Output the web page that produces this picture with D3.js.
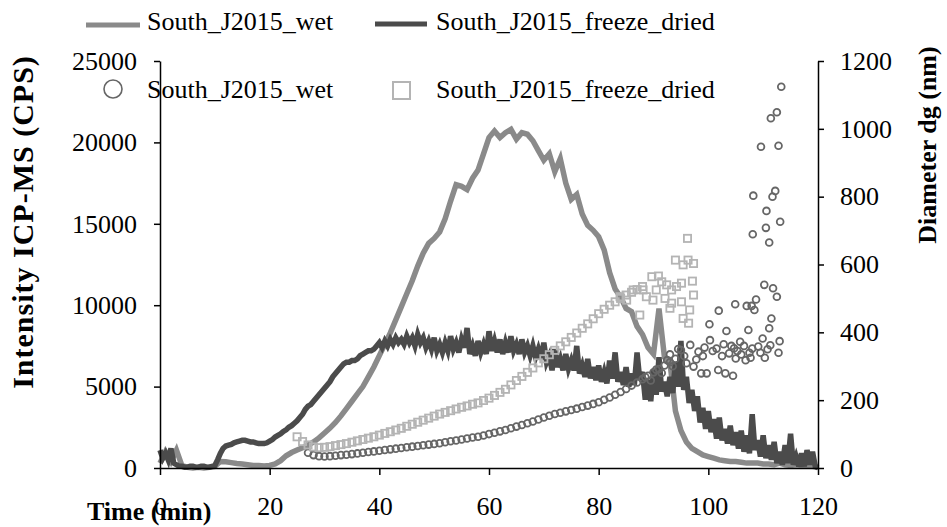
<!DOCTYPE html>
<html>
<head>
<meta charset="utf-8">
<script src="https://cdn.jsdelivr.net/npm/d3@7"></script>
<style>
  body { margin: 0; background: #fff; }
  svg text { font-family: "Liberation Serif", "Times New Roman", serif; fill: #000; }
</style>
</head>
<body>
<svg id="chart" width="947" height="527"></svg>
<script>
// time (min) for the wet ICP-MS trace
const minutes = [0,1,2,3,4,5,6,7,8,9,10,11,12,13,14,15,16,17,18,19,20,21,22,23,24,25,26,27,28,29,
  30,31,32,33,34,35,36,37,38,39,40,41,42,43,44,45,46,47,48,49,50,51,52,53,54,55,56,57,58,59,
  60,61,62,63,64,65,66,67,68,69,70,71,72,73,74,75,76,77,78,79,80,81,82,83,84,85,86,87,88,89,
  90,91,92,93,94,95,96,97,98,99,100,101,102,103,104,105,106,107,108,109,110,111,112,113,114,115,116,117,118,119,120];

const wetIntensity = [300,1000,400,1100,150,50,0,50,0,50,100,400,380,330,280,240,200,160,150,120,
  160,250,450,750,950,1100,1250,1400,1600,1850,2150,2450,2800,3200,3650,4100,4550,5000,5600,6200,
  6900,7600,8300,9100,9900,10700,11500,12400,13200,13800,14100,14500,15300,16400,17400,17300,17100,17800,18300,19300,
  20300,20700,20300,20600,20800,20200,20600,20500,20100,19500,18900,19300,18200,19000,17500,16500,16800,15600,14900,14600,
  14200,13400,12000,11000,10500,9800,9600,8700,8200,7400,7000,9800,6800,6500,3500,2300,1600,1200,1000,800,
  700,600,500,450,400,400,350,300,300,300,250,250,200,300,200,150,200,150,100,100,50];

// time (min) for the freeze-dried ICP-MS trace (read every half minute)
const driedMinutes = [0,0.5,1,1.5,2,2.5,3,3.5,4,4.5,5,5.5,6,6.5,7,7.5,8,8.5,9,9.5,
  10,10.5,11,11.5,12,12.5,13,13.5,14,14.5,15,15.5,16,16.5,17,17.5,18,18.5,19,19.5,
  20,20.5,21,21.5,22,22.5,23,23.5,24,24.5,25,25.5,26,26.5,27,27.5,28,28.5,29,29.5,
  30,30.5,31,31.5,32,32.5,33,33.5,34,34.5,35,35.5,36,36.5,37,37.5,38,38.5,39,39.5,
  40,40.5,41,41.5,42,42.5,43,43.5,44,44.5,45,45.5,46,46.5,47,47.5,48,48.5,49,49.5,
  50,50.5,51,51.5,52,52.5,53,53.5,54,54.5,55,55.5,56,56.5,57,57.5,58,58.5,59,59.5,
  60,60.5,61,61.5,62,62.5,63,63.5,64,64.5,65,65.5,66,66.5,67,67.5,68,68.5,69,69.5,
  70,70.5,71,71.5,72,72.5,73,73.5,74,74.5,75,75.5,76,76.5,77,77.5,78,78.5,79,79.5,
  80,80.5,81,81.5,82,82.5,83,83.5,84,84.5,85,85.5,86,86.5,87,87.5,88,88.5,89,89.5,
  90,90.5,91,91.5,92,92.5,93,93.5,94,94.5,95,95.5,96,96.5,97,97.5,98,98.5,99,99.5,
  100,100.5,101,101.5,102,102.5,103,103.5,104,104.5,105,105.5,106,106.5,107,107.5,108,108.5,109,109.5,
  110,110.5,111,111.5,112,112.5,113,113.5,114,114.5,115,115.5,116,116.5,117,117.5,118,118.5,119,119.5,120];

const driedIntensity = [1100,600,900,500,1200,300,200,100,100,50,50,100,100,50,50,100,100,50,50,100,
  150,500,900,1200,1350,1400,1450,1550,1600,1650,1700,1700,1650,1600,1600,1550,1500,1500,1500,1550,
  1650,1750,1900,2000,2100,2250,2350,2500,2600,2750,2900,3100,3300,3600,3800,3900,4100,4300,4500,4700,
  4900,5100,5300,5600,5800,6000,6200,6400,6500,6500,6600,6600,6700,6900,7000,7100,7200,7200,7300,7500,
  7700,7400,7800,7500,7900,7600,8000,7700,7900,7600,8100,7700,8000,7500,8200,7700,8000,7400,7800,7300,
  8000,7200,7600,7100,7700,7200,8100,7300,7700,7100,7900,7400,8600,7000,7500,6900,7800,7100,7600,7000,
  8400,7200,7800,7100,7900,7000,7700,7100,8100,7200,7600,7000,7900,7100,7500,6900,7500,6800,7300,6700,
  7700,6500,6900,6000,7300,6200,6700,6000,7000,6100,6600,6000,7500,5800,6300,5600,6700,5500,6200,5400,
  6300,5300,5900,5200,6600,5500,7100,5300,5900,5100,6200,5000,5800,5100,7100,5400,5900,4200,5400,4100,
  6000,4500,6800,4700,5300,4400,5600,4600,6500,5000,7800,4800,5600,4000,4800,3500,4400,2800,3700,2400,
  3500,2200,3000,1800,3100,1700,2400,1500,2600,1400,2200,1200,2300,1000,2000,900,3300,1100,1700,700,
  2000,600,1400,500,1600,300,1000,200,1400,300,2100,200,700,100,900,100,1100,200,1000,100,0];

// diameter dg (nm) vs time (min)
const wetDiameter = [[27,45],[28,38],[29,35],[30,34],[31,35],[32,36],[33,38],[34,39],[35,41],[36,43],
  [37,45],[38,47],[39,49],[40,51],[41,53],[42,55],[43,57],[44,59],[45,61],[46,63],[47,65],[48,67],
  [49,69],[50,71],[51,73],[52,76],[53,79],[54,81],[55,84],[56,87],[57,90],[58,92],[59,96],[60,100],
  [61,104],[62,108],[63,112],[64,117],[65,122],[66,127],[67,132],[68,137],[69,143],[70,149],[71,154],
  [72,159],[73,163],[74,167],[75,171],[76,175],[77,180],[78,184],[79,189],[80,194],[81,201],[82,208],
  [83,216],[84,224],[85,233],[86,243],[87,252],[88,262],[89,272],[90,282],[91,292],[92,302],[93,312],[94,322],
  [88.5,268],[89.5,258],[90.5,290],[91.5,280],[92.5,318],[93.5,300],[93,335],
  [94.5,351],[95,348],[95.6,330],[96,309],[96.7,363],[97.3,299],[97.8,320],[98.2,343],[98.7,279],[99,330],
  [99.3,355],[99.7,279],[100.2,424],[100.3,377],[100.8,345],[101.5,352],[101.8,289],[101.9,464],[102.5,330],
  [102.8,365],[103.1,279],[103.3,404],[103.8,338],[104.2,360],[104.5,272],[104.7,353],[104.9,483],[105,323],
  [105.3,345],[105.8,372],[106,335],[106.5,360],[106.8,318],[107,478],[107.3,407],[107.5,340],[107.7,325],
  [107.9,478],[108,352],[108.1,689],[108.2,803],[108.4,466],[108.7,497],[109.1,358],[109.5,340],[109.6,947],
  [109.9,382],[110.2,540],[110.3,325],[110.5,708],[110.6,758],[110.8,350],[111.1,665],[111.1,412],[111.3,362],
  [111.4,1031],[111.5,441],[111.7,800],[111.8,530],[112.2,817],[112.5,1049],[112.5,505],[112.8,950],[112.8,340],
  [113,374],[113.1,726],[113.3,1124]];

const driedDiameter = [[25,92],[26,78],[27,68],[28,62],[29,60],[30,61],[31,63],[32,66],[33,69],[34,72],
  [35,76],[36,80],[37,84],[38,88],[39,92],[40,97],[41,102],[42,107],[43,112],[44,117],[45,123],[46,129],
  [47,135],[48,141],[49,147],[50,153],[51,159],[52,164],[53,169],[54,174],[55,179],[56,183],[57,188],
  [58,192],[59,199],[60,206],[61,214],[62,223],[63,232],[64,245],[65,258],[66,270],[67,282],[68,295],
  [69,310],[70,322],[71,334],[72,347],[73,360],[74,372],[75,385],[76,398],[77,412],[78,425],[79,440],
  [80,455],[81,468],[82,480],[83,490],[84,500],[85,510],[86,518],[87,526],[88,535],
  [83.9,505],[85.1,495],[86.3,525],[87.5,451],[88.1,525],[88.7,505],[89.7,564],[89.9,495],[90.5,525],
  [90.9,566],[91.5,549],[92.1,500],[92.4,540],[93,471],[93.3,525],[93.3,486],[94,613],[94.2,535],
  [95.1,545],[95.1,490],[95.4,599],[95.4,441],[96.2,677],[96.3,613],[96.4,427],[96.6,466],[97.1,551],
  [97.3,603],[97.3,510]];

const timeTicks = [0,20,40,60,80,100,120];
const intensityTicks = [0,5000,10000,15000,20000,25000];
const diameterTicks = [0,200,400,600,800,1000,1200];

const wetLabel = 'South_J2015_wet';
const driedLabel = 'South_J2015_freeze_dried';

const colWetLine = '#8a8a8a';
const colDriedLine = '#4b4b4b';
const colWetMark = '#666666';
const colDriedMark = '#b4b4b4';

const svg = d3.select('#chart');

const x = d3.scaleLinear().domain([0, 120]).range([160, 818]);
const yL = d3.scaleLinear().domain([0, 25000]).range([468, 61]);
const yR = d3.scaleLinear().domain([0, 1200]).range([468, 61]);

// lines
const line = d3.line()
    .x(d => x(d[0]))
    .y(d => yL(d[1]));

svg.append('path')
    .datum(minutes.map((t, i) => [t, wetIntensity[i]]))
    .attr('d', line)
    .attr('fill', 'none')
    .attr('stroke', colWetLine)
    .attr('stroke-width', 5.5);

svg.append('path')
    .datum(driedMinutes.map((t, i) => [t, driedIntensity[i]]))
    .attr('d', line)
    .attr('fill', 'none')
    .attr('stroke', colDriedLine)
    .attr('stroke-width', 5.5);

// markers on the diameter axis
svg.append('g')
    .selectAll('circle')
    .data(wetDiameter)
    .join('circle')
    .attr('cx', d => x(d[0]))
    .attr('cy', d => yR(d[1]))
    .attr('r', 3.4)
    .attr('fill', 'none')
    .attr('stroke', colWetMark)
    .attr('stroke-width', 1.8);

svg.append('g')
    .selectAll('rect')
    .data(driedDiameter)
    .join('rect')
    .attr('x', d => x(d[0]) - 3.6)
    .attr('y', d => yR(d[1]) - 3.6)
    .attr('width', 7.2)
    .attr('height', 7.2)
    .attr('fill', 'none')
    .attr('stroke', colDriedMark)
    .attr('stroke-width', 1.8);

// axes
function styleAxis(g) {
    g.selectAll('path, line').attr('stroke', '#000').attr('stroke-width', 1.5);
    g.selectAll('text')
        .attr('font-size', 26)
        .attr('font-family', '"Liberation Serif", "Times New Roman", serif')
        .attr('fill', '#000');
}

svg.append('g')
    .attr('transform', 'translate(0,468)')
    .call(d3.axisBottom(x).tickValues(timeTicks).tickFormat(d3.format('d'))
        .tickSize(7).tickSizeOuter(0).tickPadding(22))
    .call(styleAxis);

svg.append('g')
    .attr('transform', 'translate(160,0)')
    .call(d3.axisLeft(yL).tickValues(intensityTicks).tickFormat(d3.format('d'))
        .tickSize(6).tickSizeOuter(0).tickPadding(17))
    .call(styleAxis);

svg.append('g')
    .attr('transform', 'translate(818,0)')
    .call(d3.axisRight(yR).tickValues(diameterTicks).tickFormat(d3.format('d'))
        .tickSize(6).tickSizeOuter(0).tickPadding(16))
    .call(styleAxis);

// axis titles
svg.append('text')
    .attr('transform', 'translate(33,222) rotate(-90)')
    .attr('text-anchor', 'middle')
    .attr('font-size', 30)
    .attr('font-weight', 'bold')
    .attr('letter-spacing', 1)
    .text('Intensity ICP-MS (CPS)');

svg.append('text')
    .attr('transform', 'translate(936,145) rotate(-90)')
    .attr('text-anchor', 'middle')
    .attr('font-size', 26)
    .attr('font-weight', 'bold')
    .text('Diameter dg (nm)');

svg.append('text')
    .attr('x', 87)
    .attr('y', 520)
    .attr('font-size', 26)
    .attr('font-weight', 'bold')
    .text('Time (min)');

// legend
const legend = svg.append('g');

legend.append('line')
    .attr('x1', 86).attr('x2', 140).attr('y1', 25).attr('y2', 25)
    .attr('stroke', colWetLine).attr('stroke-width', 5);
legend.append('text').attr('x', 147).attr('y', 30).attr('font-size', 26).text(wetLabel);

legend.append('line')
    .attr('x1', 375).attr('x2', 427).attr('y1', 24).attr('y2', 24)
    .attr('stroke', colDriedLine).attr('stroke-width', 5);
legend.append('text').attr('x', 436).attr('y', 30).attr('font-size', 26).text(driedLabel);

legend.append('circle')
    .attr('cx', 113).attr('cy', 89).attr('r', 9)
    .attr('fill', 'none').attr('stroke', colWetMark).attr('stroke-width', 1.6);
legend.append('text').attr('x', 147).attr('y', 98).attr('font-size', 26).text(wetLabel);

legend.append('rect')
    .attr('x', 393).attr('y', 82).attr('width', 17).attr('height', 17)
    .attr('fill', 'none').attr('stroke', colDriedMark).attr('stroke-width', 2);
legend.append('text').attr('x', 436).attr('y', 98).attr('font-size', 26).text(driedLabel);
</script>
</body>
</html>
